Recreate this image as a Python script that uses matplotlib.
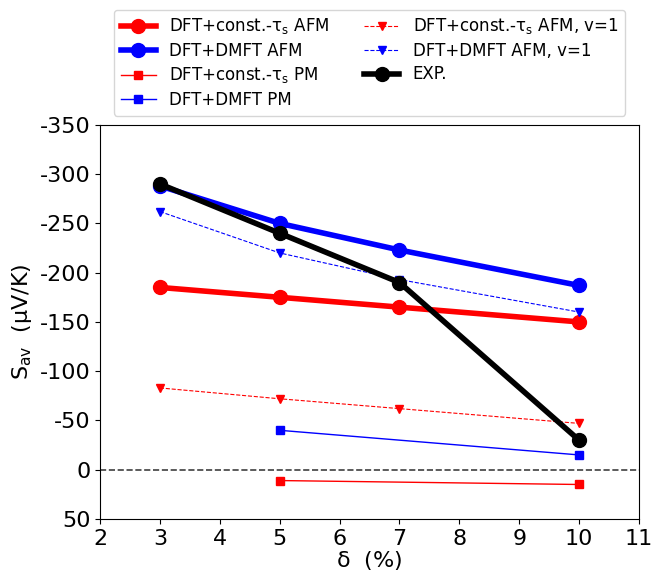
import matplotlib
matplotlib.use("Agg")
import matplotlib.pyplot as plt

plt.rcParams["axes.unicode_minus"] = False
plt.rcParams["mathtext.default"] = "regular"

# -----------------------------
# DATA
# -----------------------------
x_all = [3, 5, 7, 10]
x_pm = [5, 10]

const_afm = [-185, -175, -165, -150]
dmft_afm = [-288, -250, -223, -187]
const_pm = [11, 15]
dmft_pm = [-40, -15]
const_afm_v1 = [-83, -72, -62, -47]
dmft_afm_v1 = [-262, -220, -193, -160]
exp_vals = [-290, -240, -190, -30]

yticks = [-350, -300, -250, -200, -150, -100, -50, 0, 50]

# -----------------------------
# PLOT
# -----------------------------
fig = plt.figure(figsize=(6.67, 5.72), dpi=100)
ax = fig.add_axes([0.150, 0.0927, 0.808, 0.689])

ax.axhline(0, color="0.25", ls="--", lw=1.2, zorder=1)

ax.plot(x_all, const_afm, "o-", color="red", lw=4, ms=10, label=r"DFT+const.-$\tau_s$ AFM")
ax.plot(x_all, dmft_afm, "o-", color="blue", lw=4, ms=10, label="DFT+DMFT AFM")
ax.plot(x_pm, const_pm, "s-", color="red", lw=1, ms=6, label=r"DFT+const.-$\tau_s$ PM")
ax.plot(x_pm, dmft_pm, "s-", color="blue", lw=1, ms=6, label="DFT+DMFT PM")
ax.plot(x_all, const_afm_v1, "v--", color="red", lw=0.8, ms=6, label=r"DFT+const.-$\tau_s$ AFM, v=1")
ax.plot(x_all, dmft_afm_v1, "v--", color="blue", lw=0.8, ms=6, label="DFT+DMFT AFM, v=1")
ax.plot(x_all, exp_vals, "o-", color="black", lw=4, ms=10, label="EXP.")

ax.set_xlim(2, 11)
ax.set_ylim(50, -350)
ax.set_yticks(yticks)
ax.set_xticks(range(2, 12))
ax.tick_params(labelsize=16)

ax.set_xlabel(r"$\delta$  (%)", fontsize=16, labelpad=0)
ax.set_ylabel(r"S$_{av}$  ($\mu$V/K)", fontsize=16)

fig.legend(loc="upper center", bbox_to_anchor=(0.554, 0.983), ncol=2,
           borderaxespad=0, fontsize=12, handlelength=2.1,
           columnspacing=2.1, labelspacing=0.33)

fig.savefig("out.png", dpi=100)
